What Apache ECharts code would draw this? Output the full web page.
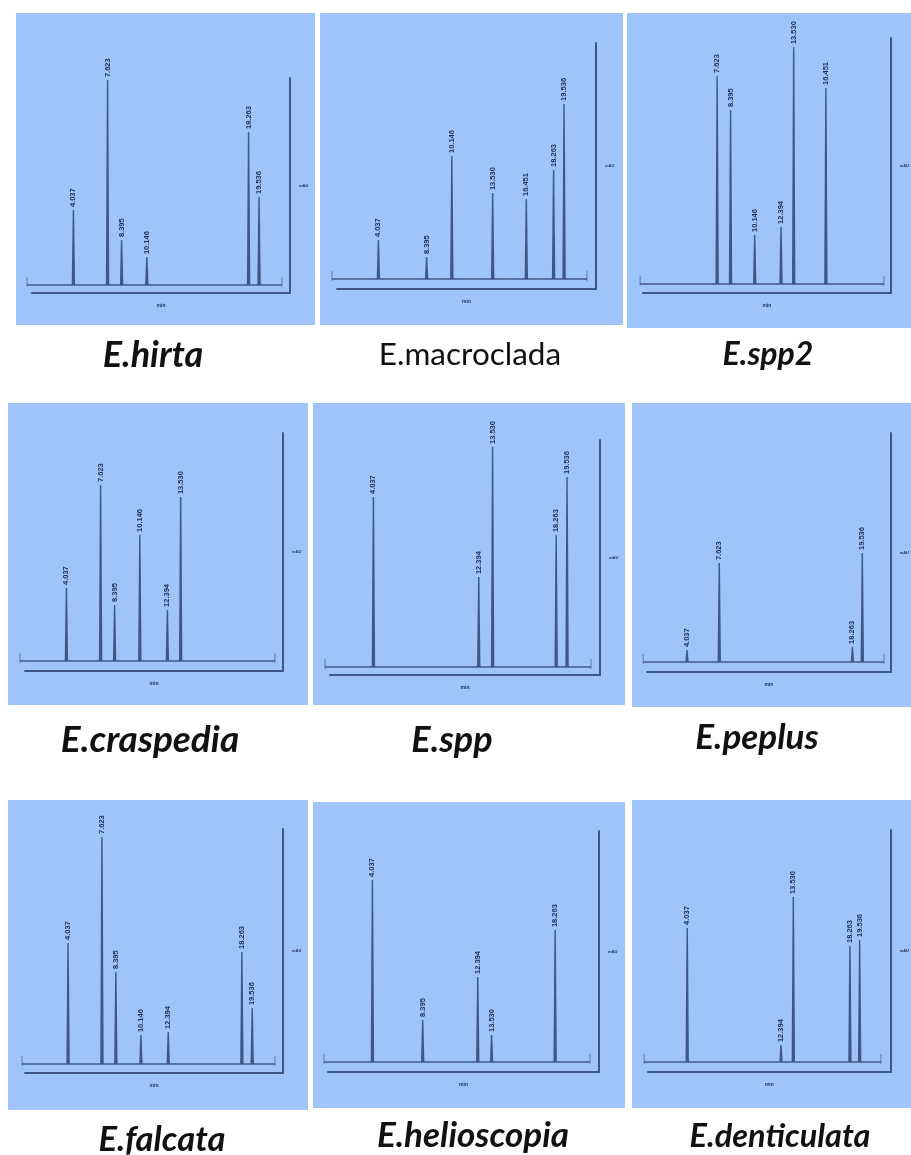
<!DOCTYPE html>
<html>
<head>
<meta charset="utf-8">
<script src="https://cdn.jsdelivr.net/npm/echarts@6/dist/echarts.min.js"></script>
<style>
html,body{margin:0;padding:0;background:#fff;}
#c{width:911px;height:1155px;}
</style>
</head>
<body>
<div id="c"></div>
<script>
// ---------------- data ----------------
const species = ['E.hirta', 'E.macroclada', 'E.spp2', 'E.craspedia', 'E.spp', 'E.peplus', 'E.falcata', 'E.helioscopia', 'E.denticulata'];
const peakLabels = ['4.037', '7.623', '8.395', '10.146', '12.394', '13.530', '16.451', '18.263', '19.536'];
// position of each peak along the baseline (0 = left end, 100 = right end)
const peakPos = [18.2, 31.6, 37.1, 47.0, 57.8, 63.0, 76.2, 86.9, 91.0];
// peak heights (percent of each panel's signal axis), null = no peak
const hirtaH        = [36.2, 99.0, 21.7, 13.5, null, null, null, 73.9, 42.5];
const macrocladaH   = [16.5, null,  9.3, 52.1, null, 36.4, 33.9, 46.2, 74.2];
const spp2H         = [null, 84.6, 70.7, 19.9, 23.2, 96.3, 79.7, null, null];
const craspediaH    = [32.0, 77.2, 24.6, 55.3, 22.4, 71.9, null, null, null];
const sppH          = [74.9, null, null, null, 39.6, 96.9, null, 58.1, 83.7];
const peplusH       = [ 5.2, 43.2, null, null, null, null, null,  6.6, 47.6];
const falcataH      = [51.5, 96.6, 39.1, 12.3, 13.6, null, null, 47.7, 23.8];
const helioscopiaH  = [78.8, null, 18.2, null, 36.8, 11.7, null, 57.1, null];
const denticulataH  = [57.8, null, null, null,  7.3, 71.1, null, 50.0, 52.6];
const heights = [hirtaH, macrocladaH, spp2H, craspediaH, sppH, peplusH, falcataH, helioscopiaH, denticulataH];

// ---------------- layout (pixels) ----------------
// rect: panel background; base: [left, right, y] of baseline; frame: [left, right(x of vertical), top, bottom]
const layout = [
  {rect:[16,13,315,325],  base:[27,282,285],   frame:[32,290,78,293],    title:[153,355,36,'bolditalic']},
  {rect:[320,13,623,325], base:[332,587,279],  frame:[337,596,43,289],   title:[470,355,31.5,'normal']},
  {rect:[627,13,911,328], base:[640,892,284],  frame:[643,899,38,293],   title:[768,355,32,'bolditalic']},
  {rect:[8,403,308,705],  base:[20,275,661],   frame:[25,283,433,671],   title:[150,740,37,'bolditalic']},
  {rect:[313,403,625,705],base:[325,591,667],  frame:[330,600,440,675],  title:[452,740,36,'bolditalic']},
  {rect:[632,403,911,707],base:[643,895,662],  frame:[647,902,433,672],  title:[757,738,35,'bolditalic']},
  {rect:[8,800,308,1110], base:[22,275,1064],  frame:[25,283,829,1073],  title:[162,1140,34.5,'bolditalic']},
  {rect:[313,802,625,1108],base:[324,590,1062],frame:[328,599,831,1072], title:[473,1136,35,'bolditalic']},
  {rect:[632,800,911,1108],base:[644,888,1062],frame:[648,898,830,1072], title:[780,1137,32.5,'bolditalic']}
];

const BG = '#9ec4fa';
const LINE = '#3f5786';
const TXT = '#1e2f55';

const chart = echarts.init(document.getElementById('c'), null, {renderer:'canvas'});

const grids = [], xAxes = [], yAxes = [], series = [], graphics = [];

layout.forEach((L, i) => {
  const [bx0, bx1, by] = L.base;
  const [lx0, vx, vy, ly] = L.frame;
  graphics.push({type:'rect', z:-10, silent:true,
    shape:{x:L.rect[0], y:L.rect[1], width:L.rect[2]-L.rect[0], height:L.rect[3]-L.rect[1]},
    style:{fill:BG}});
  const [cx, cy, fs, st] = L.title;
  graphics.push({type:'text', x:cx, y:cy, z:10,
    style:{text:species[i], fill:'#111', align:'center', verticalAlign:'middle',
      font:(st === 'bolditalic' ? 'italic bold ' : '') + fs + 'px Lato, "Open Sans", sans-serif'}});

  grids.push({left:lx0, top:vy, width:vx-lx0, height:ly-vy, containLabel:false});
  xAxes.push({type:'value', gridIndex:i,
    min:(lx0-bx0)/(bx1-bx0)*100, max:(vx-bx0)/(bx1-bx0)*100,
    axisLine:{show:true, onZero:false, lineStyle:{color:LINE, width:2}},
    axisTick:{show:false}, axisLabel:{show:false}, splitLine:{show:false},
    name:'min', nameLocation:'middle', nameGap:10,
    nameTextStyle:{fontSize:5, color:TXT, fontWeight:'bold'}});
  yAxes.push({type:'value', gridIndex:i, position:'right',
    min:-(ly-by)/(by-vy)*100, max:100,
    axisLine:{show:true, onZero:false, lineStyle:{color:LINE, width:2}},
    axisTick:{show:false}, axisLabel:{show:false}, splitLine:{show:false},
    name:'mAU', nameLocation:'middle', nameGap:9, nameRotate:0,
    nameTextStyle:{fontSize:4, color:TXT, fontWeight:'bold'}});

  // baseline with end marks
  series.push({type:'custom', xAxisIndex:i, yAxisIndex:i, silent:true,
    data:[[0, 0]],
    renderItem:(params, api) => {
      const a = api.coord([0, 0]), b = api.coord([100, 0]);
      return {type:'group', children:[
        {type:'line', shape:{x1:a[0], y1:a[1], x2:b[0], y2:b[1]}, style:{stroke:LINE, lineWidth:1.6}},
        {type:'line', shape:{x1:a[0], y1:a[1]-8, x2:a[0], y2:a[1]+2}, style:{stroke:LINE, lineWidth:0.8, opacity:0.8}},
        {type:'line', shape:{x1:b[0], y1:b[1]-8, x2:b[0], y2:b[1]+2}, style:{stroke:LINE, lineWidth:0.8, opacity:0.8}}
      ]};
    }});

  // peaks
  const data = [];
  heights[i].forEach((h, j) => { if (h !== null) data.push([peakPos[j], h, j]); });
  series.push({type:'custom', xAxisIndex:i, yAxisIndex:i, silent:true,
    dimensions:['pos', 'height', 'idx'],
    encode:{x:0, y:1},
    data:data,
    renderItem:(params, api) => {
      const x = api.value(0), h = api.value(1), j = api.value(2);
      const b = api.coord([x, 0]), t = api.coord([x, h]);
      return {type:'group', children:[
        {type:'polygon', shape:{points:[[b[0]-1.7, b[1]], [t[0]-0.7, t[1]], [t[0]+0.7, t[1]], [b[0]+1.7, b[1]]]},
          style:{fill:LINE}},
        {type:'text', x:t[0], y:t[1]-3, rotation:Math.PI/2,
          style:{text:peakLabels[j], fill:TXT, align:'left', verticalAlign:'middle',
            font:'bold 7.5px "Liberation Sans", sans-serif'}}
      ]};
    }});
});

chart.setOption({
  animation:false,
  backgroundColor:'#ffffff',
  grid:grids, xAxis:xAxes, yAxis:yAxes, series:series,
  graphic:{elements:graphics}
});
</script>
</body>
</html>
